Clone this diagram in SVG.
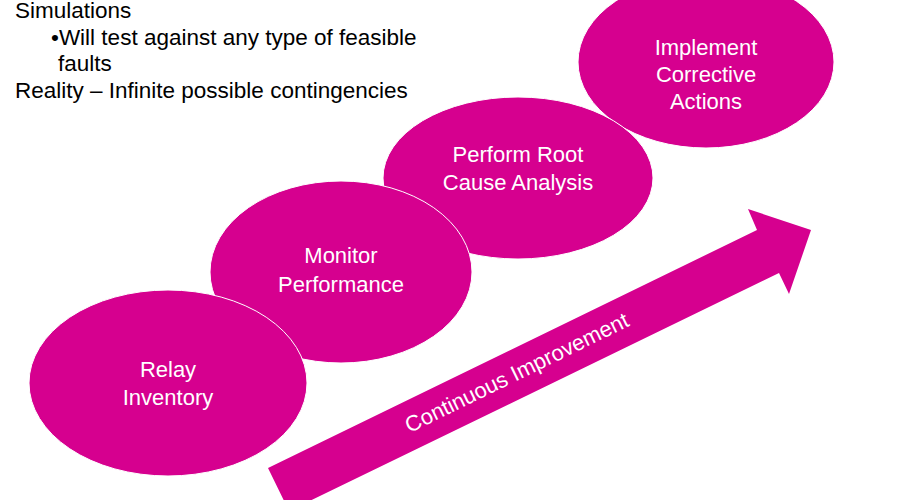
<svg xmlns="http://www.w3.org/2000/svg" width="900" height="500" viewBox="0 0 900 500">
<style>
.node{fill:#D6008F;stroke:#FFFFFF;stroke-width:1}
.lbl{font-family:"Liberation Sans",Arial,sans-serif;font-size:22px;fill:#FFFFFF;text-anchor:middle}
.txt{font-family:"Liberation Sans",Arial,sans-serif;font-size:22.5px;fill:#000000}
</style>
<rect width="900" height="500" fill="#FFFFFF"/>
<g id="notes">
<text class="txt" x="15" y="18">Simulations</text>
<text class="txt" x="51" y="45">•Will test against any type of feasible</text>
<text class="txt" x="58" y="71">faults</text>
<text class="txt" x="15" y="98">Reality – Infinite possible contingencies</text>
</g>
<g id="improvement-arrow">
<polygon fill="#D6008F" points="268,468 757,230 748,209 811,230 789,294 779,273 289,511"/>
<text class="lbl" transform="translate(517,373) rotate(-26)" x="0" y="7">Continuous Improvement</text>
</g>
<g id="node-implement">
<ellipse class="node" cx="706" cy="62" rx="128" ry="86"/>
<text class="lbl" x="706" y="55">Implement</text>
<text class="lbl" x="706" y="82">Corrective</text>
<text class="lbl" x="706" y="109">Actions</text>
</g>
<g id="node-root-cause">
<ellipse class="node" cx="518" cy="178" rx="135" ry="81"/>
<text class="lbl" x="518" y="162">Perform Root</text>
<text class="lbl" x="518" y="190">Cause Analysis</text>
</g>
<g id="node-monitor">
<ellipse class="node" cx="341" cy="272" rx="131" ry="91"/>
<text class="lbl" x="341" y="263">Monitor</text>
<text class="lbl" x="341" y="292">Performance</text>
</g>
<g id="node-relay">
<ellipse class="node" cx="168" cy="383" rx="139" ry="93"/>
<text class="lbl" x="168" y="377">Relay</text>
<text class="lbl" x="168" y="405">Inventory</text>
</g>
</svg>
